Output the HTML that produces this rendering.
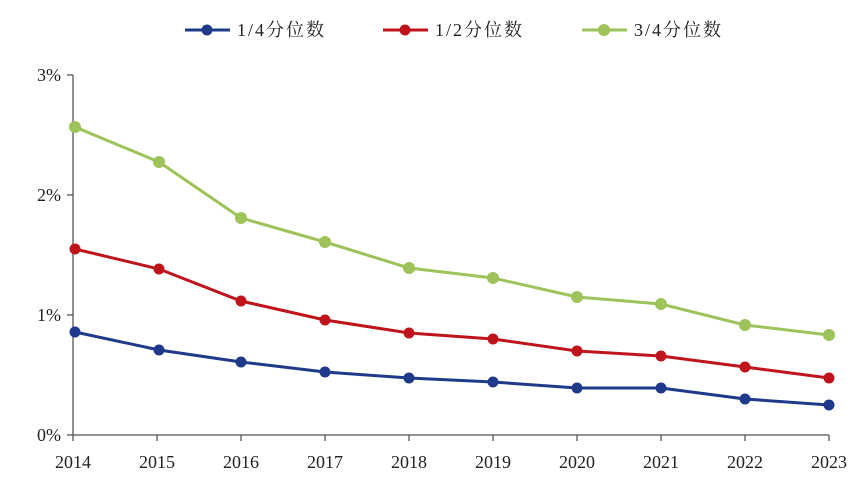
<!DOCTYPE html>
<html><head><meta charset="utf-8"><style>
body{margin:0;background:#fff;}
svg text{font-family:"Liberation Serif","Noto Serif CJK SC",serif;font-size:18px;fill:#222;}
svg text.lg{letter-spacing:2px;}
</style></head><body>
<svg width="862" height="490" xmlns="http://www.w3.org/2000/svg">
<rect width="862" height="490" fill="#fff"/>
<g stroke="#555" stroke-width="1.3" fill="none">
<line x1="73" y1="75" x2="73" y2="435"/>
<line x1="73" y1="435" x2="829" y2="435"/>
<line x1="67" y1="75" x2="73" y2="75"/><line x1="67" y1="195" x2="73" y2="195"/>
<line x1="67" y1="315" x2="73" y2="315"/><line x1="67" y1="435" x2="73" y2="435"/>
<path d="M73 435v6M157 435v6M241 435v6M325 435v6M409 435v6M493 435v6M577 435v6M661 435v6M745 435v6M829 435v6"/>
</g>
<g text-anchor="end">
<text x="61" y="81">3%</text><text x="61" y="201">2%</text><text x="61" y="321">1%</text><text x="61" y="441">0%</text>
</g>
<g text-anchor="middle">
<text x="73" y="468">2014</text><text x="157" y="468">2015</text><text x="241" y="468">2016</text><text x="325" y="468">2017</text><text x="409" y="468">2018</text><text x="493" y="468">2019</text><text x="577" y="468">2020</text><text x="661" y="468">2021</text><text x="745" y="468">2022</text><text x="829" y="468">2023</text>
</g>
<g fill="none" stroke-width="3">
<polyline stroke="#9dc35a" points="75,127 159,162 241,218 325,242 409,268 493,278 577,297 661,304 745,325 829,335"/>
<polyline stroke="#c0141c" points="75,249 159,269 241,301 325,320 409,333 493,339 577,351 661,356 745,367 829,378"/>
<polyline stroke="#1f3a8a" points="75,332 159,350 241,362 325,372 409,378 493,382 577,388 661,388 745,399 829,405"/>
</g>
<g fill="#9dc35a">
<circle cx="75" cy="127" r="6"/><circle cx="159" cy="162" r="6"/><circle cx="241" cy="218" r="6"/><circle cx="325" cy="242" r="6"/><circle cx="409" cy="268" r="6"/><circle cx="493" cy="278" r="6"/><circle cx="577" cy="297" r="6"/><circle cx="661" cy="304" r="6"/><circle cx="745" cy="325" r="6"/><circle cx="829" cy="335" r="6"/>
</g>
<g fill="#c0141c">
<circle cx="75" cy="249" r="5.5"/><circle cx="159" cy="269" r="5.5"/><circle cx="241" cy="301" r="5.5"/><circle cx="325" cy="320" r="5.5"/><circle cx="409" cy="333" r="5.5"/><circle cx="493" cy="339" r="5.5"/><circle cx="577" cy="351" r="5.5"/><circle cx="661" cy="356" r="5.5"/><circle cx="745" cy="367" r="5.5"/><circle cx="829" cy="378" r="5.5"/>
</g>
<g fill="#1f3a8a">
<circle cx="75" cy="332" r="5.5"/><circle cx="159" cy="350" r="5.5"/><circle cx="241" cy="362" r="5.5"/><circle cx="325" cy="372" r="5.5"/><circle cx="409" cy="378" r="5.5"/><circle cx="493" cy="382" r="5.5"/><circle cx="577" cy="388" r="5.5"/><circle cx="661" cy="388" r="5.5"/><circle cx="745" cy="399" r="5.5"/><circle cx="829" cy="405" r="5.5"/>
</g>
<line x1="185" y1="30" x2="230" y2="30" stroke="#1f3a8a" stroke-width="3"/><circle cx="207" cy="30" r="5.5" fill="#1f3a8a"/>
<text class="lg" x="237" y="36">1/4分位数</text>
<line x1="383" y1="30" x2="428" y2="30" stroke="#c0141c" stroke-width="3"/><circle cx="405" cy="30" r="5.5" fill="#c0141c"/>
<text class="lg" x="435" y="36">1/2分位数</text>
<line x1="582" y1="30" x2="627" y2="30" stroke="#9dc35a" stroke-width="3"/><circle cx="604" cy="30" r="6" fill="#9dc35a"/>
<text class="lg" x="634" y="36">3/4分位数</text>
</svg>
</body></html>
